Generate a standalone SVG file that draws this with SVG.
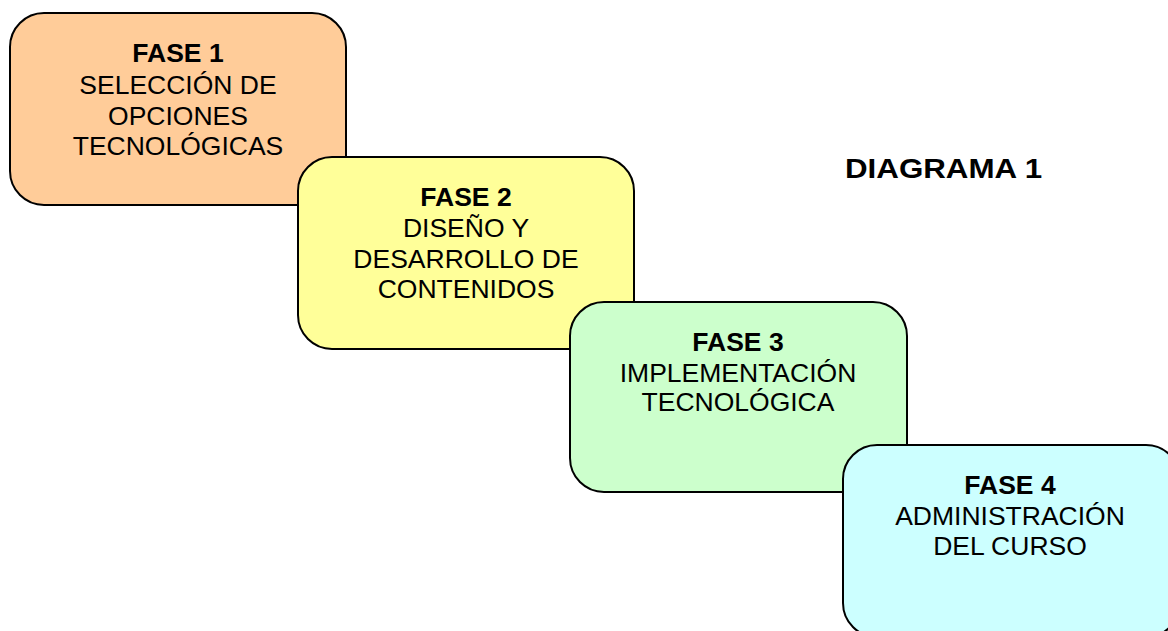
<svg xmlns="http://www.w3.org/2000/svg" width="1168" height="631" viewBox="0 0 1168 631">
<style>
.box{stroke:#000;stroke-width:2}
text{font-family:"Liberation Sans",Arial,sans-serif;font-size:26.5px;fill:#000;text-anchor:middle}
.b{font-weight:bold}
.title{font-size:27px;font-weight:bold;text-anchor:start}
</style>
<rect width="1168" height="631" fill="#fff"/>
<g id="fase1">
<rect class="box" x="10" y="13" width="336" height="192" rx="34" fill="#FFCC99"/>
<text x="178" y="62" class="b">FASE 1</text>
<text x="178" y="94">SELECCIÓN DE</text>
<text x="178" y="125">OPCIONES</text>
<text x="178" y="155">TECNOLÓGICAS</text>
</g>
<g id="fase2">
<rect class="box" x="298" y="157" width="336" height="192" rx="34" fill="#FFFF99"/>
<text x="466" y="206" class="b">FASE 2</text>
<text x="466" y="237">DISEÑO Y</text>
<text x="466" y="268">DESARROLLO DE</text>
<text x="466" y="298">CONTENIDOS</text>
</g>
<g id="fase3">
<rect class="box" x="570" y="302" width="337" height="190" rx="34" fill="#CCFFCC"/>
<text x="738" y="351" class="b">FASE 3</text>
<text x="738" y="382">IMPLEMENTACIÓN</text>
<text x="738" y="411">TECNOLÓGICA</text>
</g>
<g id="fase4">
<rect class="box" x="843" y="445" width="337" height="192" rx="34" fill="#CCFFFF"/>
<text x="1010" y="494" class="b">FASE 4</text>
<text x="1010" y="525">ADMINISTRACIÓN</text>
<text x="1010" y="555">DEL CURSO</text>
</g>
<g id="connectors"></g>
<text class="title" transform="translate(845,178) scale(1.16,1)">DIAGRAMA 1</text>
</svg>
